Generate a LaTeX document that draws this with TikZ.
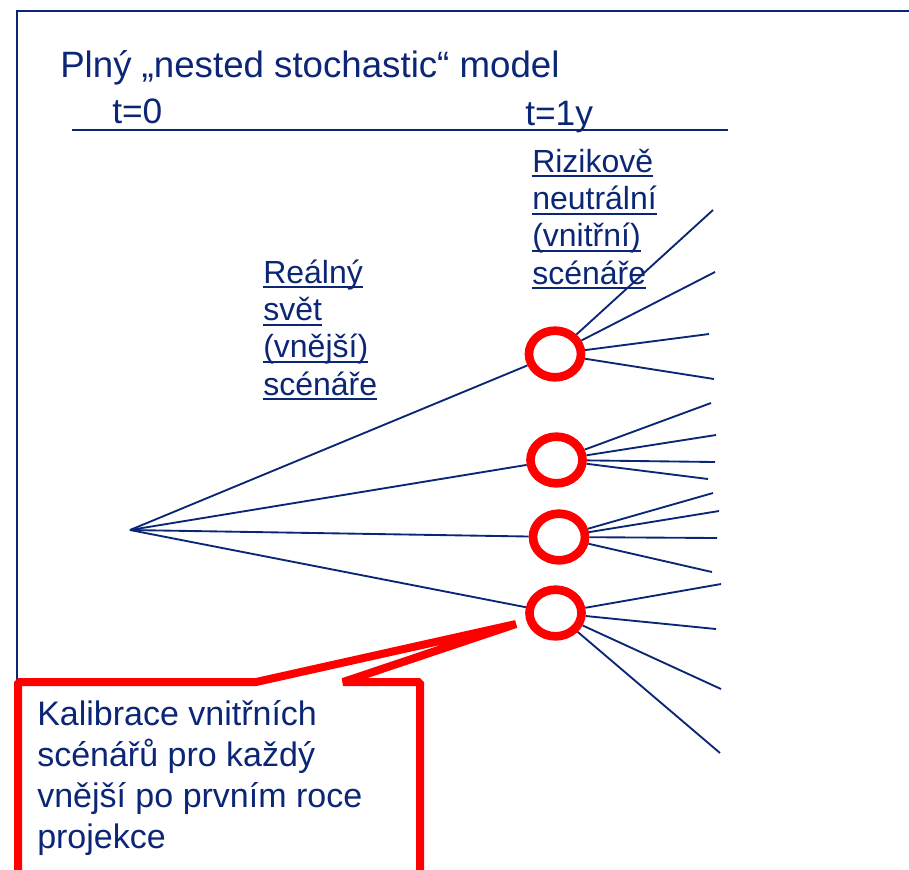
\documentclass[tikz,border=0pt]{standalone}
\usepackage{fontspec}
\setmainfont{Liberation Sans}
\usetikzlibrary{shapes.geometric, positioning, backgrounds}
\definecolor{navy}{RGB}{12,38,118}
\definecolor{callred}{RGB}{255,0,0}
\newsavebox\ulbox
\newcommand\ulin[1]{\sbox\ulbox{#1}\rlap{\rule[-4pt]{\wd\ulbox}{1.5pt}}\usebox\ulbox}

\begin{document}
\begin{tikzpicture}[
    x=0.75pt, y=-0.75pt,
    frame/.style={draw=navy, line width=1.5pt},
    branch/.style={draw=navy, line width=1.4pt},
    scen/.style={ellipse, draw=callred, line width=6.5pt, minimum width=39pt, minimum height=35pt, inner sep=0pt},
    lbl/.style={text=navy, font=\fontsize{24pt}{28pt}\selectfont, align=left, anchor=base west, inner sep=0pt},
    head/.style={text=navy, anchor=base west, inner sep=0pt},
    calltext/.style={text=navy, font=\fontsize{25.5pt}{30.75pt}\selectfont, align=left, anchor=base west, inner sep=0pt},
    callline/.style={draw=callred, line width=6pt, line join=bevel}
]
\useasboundingbox (0,0) rectangle (909,869);
\clip (0,0) rectangle (909,869);

% slide frame and time axis
\draw[frame] (16.5,900) -- (16.5,11) -- (950,11);
\draw[frame] (72,130) -- (728,130);

\node[head, font=\fontsize{27.5pt}{33pt}\selectfont] (title) at (60,77) {Plný „nested stochastic“ model};
\node[head, font=\fontsize{26.5pt}{30pt}\selectfont] (t0) at (112,123) {t=0};
\node[head, font=\fontsize{26.5pt}{30pt}\selectfont] (t1) at (525,125) {t=1y};

% base = baseline of the last line
\node[lbl] (outer) at (263,395) {\ulin{Reálný}\\\ulin{svět}\\\ulin{(vnější)}\\\ulin{scénáře}};
\node[lbl] (inner) at (532,284) {\ulin{Rizikově}\\\ulin{neutrální}\\\ulin{(vnitřní)}\\\ulin{scénáře}};

% outer scenarios at t=1y
\coordinate (root) at (130,530);
\node[scen] (s1) at (555,354) {};
\node[scen] (s2) at (556.5,460) {};
\node[scen] (s3) at (559,537) {};
\node[scen] (s4) at (555.5,613) {};

\begin{scope}[on background layer]
\foreach \k in {1,...,4}
    \draw[branch] (root) -- (s\k);
% inner scenarios
\foreach \x/\y [count=\k] in {713/210, 715/272, 709/334, 714/379}
    {\coordinate (a\k) at (\x,\y); \draw[branch] (s1) -- (a\k);}
\foreach \x/\y [count=\k] in {711/403, 716/435, 715/462, 708/479}
    {\coordinate (b\k) at (\x,\y); \draw[branch] (s2) -- (b\k);}
\foreach \x/\y [count=\k] in {713/493, 719/511, 717/538, 712/572}
    {\coordinate (c\k) at (\x,\y); \draw[branch] (s3) -- (c\k);}
\foreach \x/\y [count=\k] in {721/584, 716/629, 721/689, 720/753}
    {\coordinate (d\k) at (\x,\y); \draw[branch] (s4) -- (d\k);}
\end{scope}

% callout
\coordinate (tip) at (516,624);
\draw[callline] (18,900) -- (18,682) -- (256,682) -- (tip) -- (343,682) -- (420,682) -- (420,900);
\node[calltext] (calib) at (37,848) {Kalibrace vnitřních\\scénářů pro každý\\vnější po prvním roce\\projekce};

\end{tikzpicture}
\end{document}
